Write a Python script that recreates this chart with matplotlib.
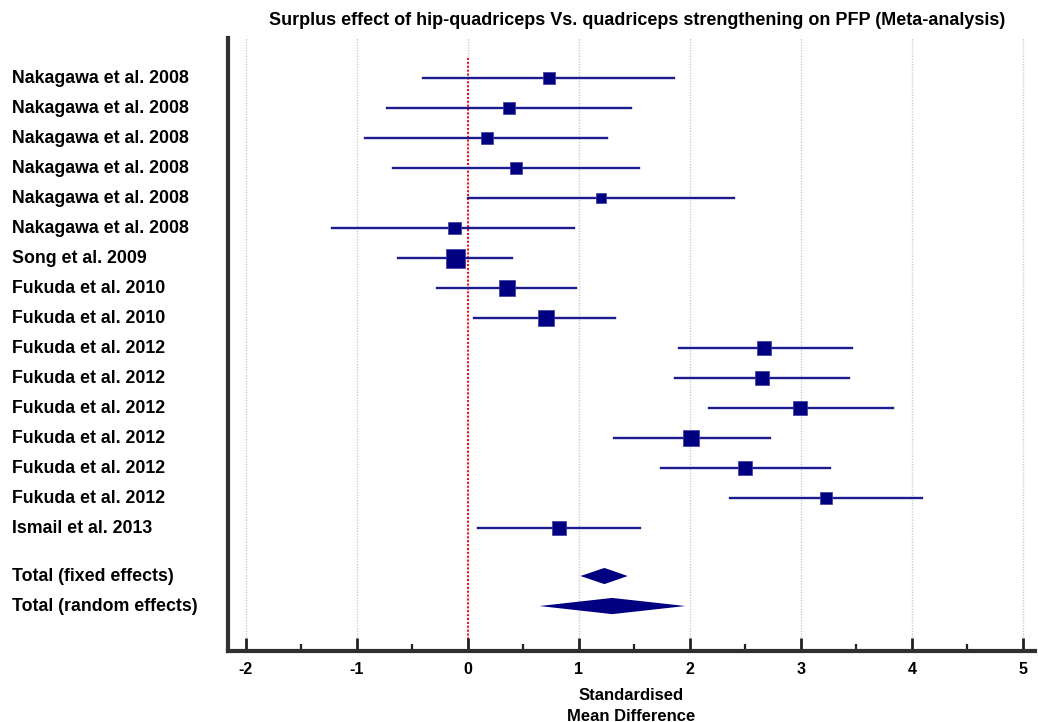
import matplotlib
matplotlib.use("Agg")
import matplotlib.pyplot as plt
from matplotlib.transforms import blended_transform_factory
from matplotlib.ticker import MultipleLocator

# study level data (standardised mean difference, 95% CI, weight %)
studies = ["Nakagawa et al. 2008", "Nakagawa et al. 2008", "Nakagawa et al. 2008",
           "Nakagawa et al. 2008", "Nakagawa et al. 2008", "Nakagawa et al. 2008",
           "Song et al. 2009", "Fukuda et al. 2010", "Fukuda et al. 2010",
           "Fukuda et al. 2012", "Fukuda et al. 2012", "Fukuda et al. 2012",
           "Fukuda et al. 2012", "Fukuda et al. 2012", "Fukuda et al. 2012",
           "Ismail et al. 2013"]
smd = [0.73, 0.37, 0.17, 0.43, 1.20, -0.12, -0.11, 0.35, 0.70,
       2.67, 2.65, 2.99, 2.01, 2.50, 3.23, 0.82]
ci_low = [-0.40, -0.73, -0.93, -0.67, 0.00, -1.22, -0.63, -0.28, 0.06,
          1.90, 1.87, 2.17, 1.32, 1.74, 2.36, 0.09]
ci_high = [1.86, 1.47, 1.25, 1.54, 2.40, 0.96, 0.40, 0.97, 1.33,
           3.46, 3.43, 3.83, 2.72, 3.26, 4.09, 1.55]
weights = [4.7, 4.7, 4.7, 4.7, 3.3, 4.7, 11.7, 8.3, 8.3,
           6.4, 6.4, 6.4, 8.3, 6.4, 4.7, 6.4]

# pooled estimates
totals = ["Total (fixed effects)", "Total (random effects)"]
total_est = [1.23, 1.30]
total_low = [1.015, 0.645]
total_high = [1.44, 1.96]

x_ticks = [-2, -1, 0, 1, 2, 3, 4, 5]

navy = "#000080"
line_col = "#1c1c8e"
bold_font = {"family": ["Liberation Sans", "DejaVu Sans"], "weight": "bold"}

fig = plt.figure(figsize=(10.38, 7.22), dpi=100)
ax = fig.add_axes([0.2197, 0.0983, 0.7775, 0.8490])

n = len(studies)
rows = list(range(n))
total_rows = [n + 0.6, n + 1.6]

# grid lines and the no-effect line
for xt in x_ticks:
    ax.axvline(xt, color="#cccccc", linestyle=(0, (1, 1)), linewidth=1.0, zorder=0)
ax.plot([0, 0], [-0.67, n + 3], color="red", linestyle=(0, (1, 1)), linewidth=1.4, zorder=1)

# confidence intervals and weighted squares
for i in rows:
    ax.plot([ci_low[i], ci_high[i]], [i, i], color=line_col, linewidth=1.7, zorder=2)
ax.scatter(smd, rows, marker="s", s=[w * 16 for w in weights],
           color=navy, edgecolors="#3a3aa0", linewidths=0.5, zorder=3)

# pooled diamonds
half_h = 0.27
for k in range(len(totals)):
    y = total_rows[k]
    xs = [total_low[k], total_est[k], total_high[k], total_est[k]]
    ys = [y, y - half_h, y, y + half_h]
    ax.fill(xs, ys, color=navy, zorder=3, linewidth=0)

# study labels on the left
trans = blended_transform_factory(fig.transFigure, ax.transData)
for i in rows:
    ax.text(12 / 1038, i, studies[i], transform=trans, ha="left", va="center",
            fontsize=12.8, fontdict=bold_font)
for k in range(len(totals)):
    ax.text(12 / 1038, total_rows[k], totals[k], transform=trans, ha="left",
            va="center", fontsize=12.8, fontdict=bold_font)

ax.set_xlim(-2.16, 5.11)
ax.set_ylim(n + 3.1, -1.333)

ax.set_xticks(x_ticks)
ax.set_xticklabels([str(t) for t in x_ticks], fontdict=bold_font, fontsize=11.5)
ax.xaxis.set_minor_locator(MultipleLocator(0.5))
ax.tick_params(axis="x", which="major", direction="in", length=9.5, width=2,
               pad=8, color="#222222")
ax.tick_params(axis="x", which="minor", direction="in", length=5, width=1.6,
               color="#222222")
ax.set_yticks([])

for side in ["top", "right"]:
    ax.spines[side].set_visible(False)
for side in ["left", "bottom"]:
    ax.spines[side].set_linewidth(3)
    ax.spines[side].set_color("#303030")

ax.set_xlabel("Standardised\nMean Difference", fontdict=bold_font, fontsize=12,
              labelpad=8, linespacing=1.45)
fig.text(0.6135, 0.972, "Surplus effect of hip-quadriceps Vs. quadriceps strengthening on PFP (Meta-analysis)",
         ha="center", va="center", fontsize=13, fontdict=bold_font)

fig.savefig("out.png", dpi=100)
